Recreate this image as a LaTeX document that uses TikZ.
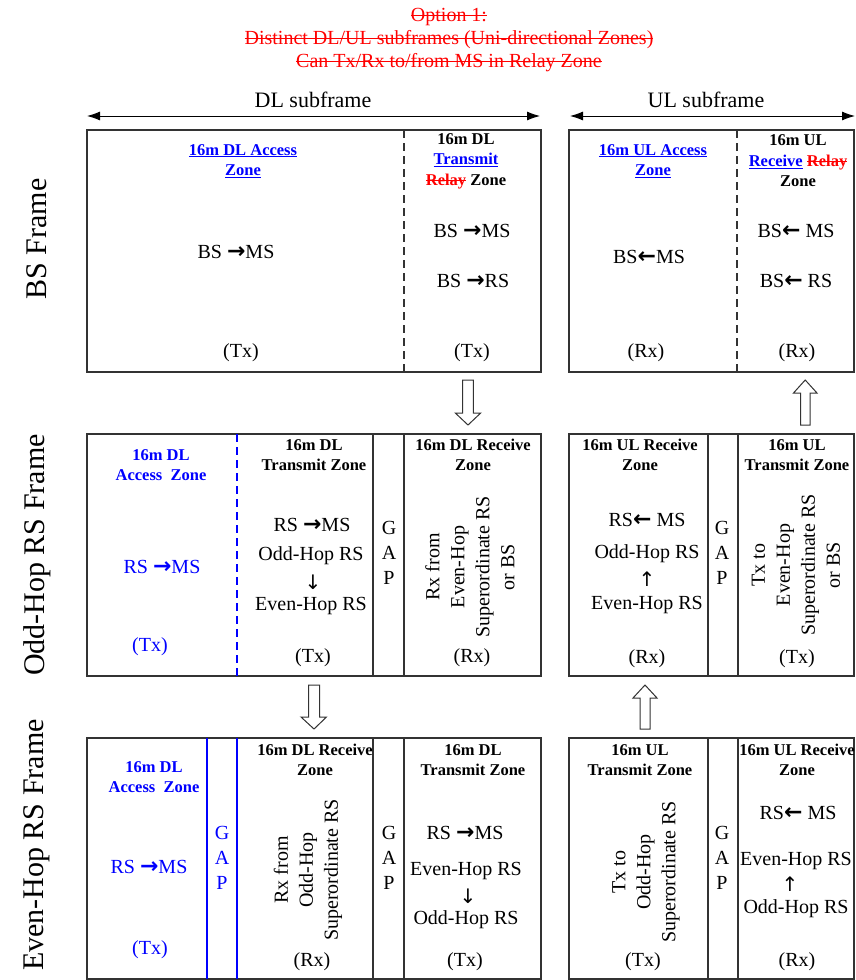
\documentclass[tikz,border=0pt]{standalone}
\usepackage{fontspec}
\setmainfont{Liberation Serif}
\newfontfamily\arrf{DejaVu Sans}
\usetikzlibrary{arrows.meta}
\newcommand\strk[1]{\setbox0\hbox{#1}\rlap{\rule[0.27em]{\wd0}{0.055em}}\box0}
\newcommand\bodyf{\fontsize{20}{25}\selectfont}
\newcommand\headf{\bfseries\fontsize{16.5}{20.5}\selectfont}
\newcommand\rarr{{\arrf\bfseries\fontsize{22}{22}\selectfont →}}
\newcommand\larr{{\arrf\bfseries\fontsize{22}{22}\selectfont ←}}
\newcommand\darr{{\arrf\fontsize{20}{20}\selectfont ↓}}
\newcommand\uarr{{\arrf\fontsize{20}{20}\selectfont ↑}}
\begin{document}
\begin{tikzpicture}[x=1pt,y=-1pt,
  body/.style={font=\bodyf, inner sep=0pt, align=center},
  hdr/.style={font=\headf, inner sep=0pt, align=center},
  rot/.style={font=\bodyf, inner sep=0pt, align=center, rotate=90},
  rowlab/.style={font=\fontsize{30}{34}\selectfont, inner sep=0pt, rotate=90},
  sub/.style={font=\fontsize{22}{26}\selectfont, inner sep=0pt},
  titlest/.style={font=\fontsize{20}{23}\selectfont, text=red, inner sep=0pt, align=center},
  frame/.style={draw=black!80, line width=1.5pt},
  sep/.style={draw=black!80, line width=1.2pt},
  bluesep/.style={draw=blue, line width=1.2pt},
  dashsep/.style={draw=black!80, line width=1.2pt, dash pattern=on 8pt off 5pt},
  bluedash/.style={draw=blue, line width=1.2pt, dash pattern=on 8pt off 5pt},
  hdrarrow/.style={draw=black, line width=0.9pt, {Latex[length=13pt,width=9pt]}-{Latex[length=13pt,width=9pt]}},
  blockarr/.style={draw=black!80, fill=white, line width=1pt, line join=miter}
]
\useasboundingbox (0,0) rectangle (855,980);

% title
\node[titlest] (title) at (449,40) {\strk{Option 1:}\\\strk{Distinct DL/UL subframes (Uni-directional Zones)}\\\strk{Can Tx/Rx to/from MS in Relay Zone}};

% subframe headers
\node[sub] (dlsub) at (313,100) {DL subframe};
\node[sub] (ulsub) at (706,100) {UL subframe};
\coordinate (dlL) at (87,116);
\coordinate (dlR) at (540,116);
\coordinate (ulL) at (570,116);
\coordinate (ulR) at (855,116);
\draw[hdrarrow] (dlL) -- (dlR);
\draw[hdrarrow] (ulL) -- (ulR);

% row labels
\node[rowlab] (lbs) at (37,239) {BS Frame};
\node[rowlab] (lodd) at (37,555) {Odd-Hop RS Frame};
\node[rowlab] (leven) at (37,845) {Even-Hop RS Frame};

% ---------- BS frame row ----------
\draw[frame] (87,130) rectangle (541,372);
\draw[frame] (569,130) rectangle (854,372);
\draw[dashsep] (404,130) -- (404,372);
\draw[dashsep] (737,130) -- (737,372);

\node[hdr, text=blue] (b1h) at (243,161) {\underline{16m DL Access}\\\underline{Zone}};
\node[body] (b1a) at (236,252) {BS \rarr MS};
\node[body] (b1t) at (241,353) {(Tx)};

\node[hdr] (b2h) at (466,161) {16m DL\\\textcolor{blue}{\underline{Transmit}}\\\textcolor{red}{\strk{Relay}} Zone};
\node[body] (b2a) at (472,231) {BS \rarr MS};
\node[body] (b2b) at (473,281) {BS \rarr RS};
\node[body] (b2t) at (472,353) {(Tx)};

\node[hdr, text=blue] (b3h) at (653,161) {\underline{16m UL Access}\\\underline{Zone}};
\node[body] (b3a) at (649,257) {BS\larr MS};
\node[body] (b3t) at (646,353) {(Rx)};

\node[hdr] (b4h) at (798,161) {16m UL\\\textcolor{blue}{\underline{Receive}} \textcolor{red}{\strk{Relay}}\\Zone};
\node[body] (b4a) at (796,231) {BS\larr\ MS};
\node[body] (b4b) at (796,281) {BS\larr\ RS};
\node[body] (b4t) at (797,353) {(Rx)};

% block arrows between BS and odd rows
\draw[blockarr] (462.7,380) -- (473.3,380) -- (473.3,413) -- (480.7,413) -- (468,425) -- (455.3,413) -- (462.7,413) -- cycle;
\draw[blockarr] (800.5,425) -- (810,425) -- (810,393) -- (817,393) -- (805.2,380) -- (793.5,393) -- (800.5,393) -- cycle;

% ---------- Odd-Hop row ----------
\draw[frame] (87,434) rectangle (541,676);
\draw[frame] (569,434) rectangle (854,676);
\draw[bluedash] (237,434) -- (237,676);
\draw[sep] (373,434) -- (373,676);
\draw[sep] (404,434) -- (404,676);
\draw[sep] (708,434) -- (708,676);
\draw[sep] (738,434) -- (738,676);

\node[hdr, text=blue] (o1h) at (161,465) {16m DL\\Access~ Zone};
\node[body, text=blue] (o1a) at (162,567) {RS \rarr MS};
\node[body, text=blue] (o1t) at (150,647) {(Tx)};

\node[hdr] (o2h) at (314,455) {16m DL\\Transmit Zone};
\node[body] (o2a) at (312,525) {RS \rarr MS};
\node[body] (o2b) at (311,556) {Odd-Hop RS};
\node[body] (o2c) at (313,582) {\darr};
\node[body] (o2d) at (311,606) {Even-Hop RS};
\node[body] (o2t) at (313,658) {(Tx)};

\node[body] (o3g) at (389,553) {G\\A\\P};

\node[hdr] (o4h) at (473,455) {16m DL Receive\\Zone};
\node[rot] (o4r) at (470,567) {Rx from\\Even-Hop\\Superordinate RS\\or BS};
\node[body] (o4t) at (472,658) {(Rx)};

\node[hdr] (o5h) at (640,455) {16m UL Receive\\Zone};
\node[body] (o5a) at (647,520) {RS\larr\ MS};
\node[body] (o5b) at (647,554) {Odd-Hop RS};
\node[body] (o5c) at (647,579) {\uarr};
\node[body] (o5d) at (647,605) {Even-Hop RS};
\node[body] (o5t) at (647,659) {(Rx)};

\node[body] (o6g) at (722,553) {G\\A\\P};

\node[hdr] (o7h) at (797,455) {16m UL\\Transmit Zone};
\node[rot] (o7r) at (796,565) {Tx to\\Even-Hop\\Superordinate RS\\or BS};
\node[body] (o7t) at (797,659) {(Tx)};

% block arrows between odd and even rows
\draw[blockarr] (308.5,685) -- (319.5,685) -- (319.5,717) -- (326.5,717) -- (314,729) -- (301,717) -- (308.5,717) -- cycle;
\draw[blockarr] (640,729) -- (650,729) -- (650,698) -- (657,698) -- (645,685) -- (633,698) -- (640,698) -- cycle;

% ---------- Even-Hop row ----------
\draw[frame] (87,738) rectangle (541,979);
\draw[frame] (569,738) rectangle (854,979);
\draw[bluesep] (207,738) -- (207,979);
\draw[bluesep] (237,738) -- (237,979);
\draw[sep] (373,738) -- (373,979);
\draw[sep] (404,738) -- (404,979);
\draw[sep] (708,738) -- (708,979);
\draw[sep] (738,738) -- (738,979);

\node[hdr, text=blue] (e1h) at (154,777) {16m DL\\Access~ Zone};
\node[body, text=blue] (e1a) at (149,867) {RS \rarr MS};
\node[body, text=blue] (e1t) at (150,950) {(Tx)};

\node[body, text=blue] (e2g) at (222,858) {G\\A\\P};

\node[hdr] (e3h) at (315,760) {16m DL Receive\\Zone};
\node[rot] (e3r) at (308,870) {Rx from\\Odd-Hop\\Superordinate RS};
\node[body] (e3t) at (312,962) {(Rx)};

\node[body] (e4g) at (389,858) {G\\A\\P};

\node[hdr] (e5h) at (473,760) {16m DL\\Transmit Zone};
\node[body] (e5a) at (465,833) {RS \rarr MS};
\node[body] (e5b) at (466,871) {Even-Hop RS};
\node[body] (e5c) at (468,896) {\darr};
\node[body] (e5d) at (466,920) {Odd-Hop RS};
\node[body] (e5t) at (465,962) {(Tx)};

\node[hdr] (e6h) at (640,760) {16m UL\\Transmit Zone};
\node[rot] (e6r) at (646,872) {Tx to\\Odd-Hop\\Superordinate RS};
\node[body] (e6t) at (643,962) {(Tx)};

\node[body] (e7g) at (722,858) {G\\A\\P};

\node[hdr] (e8h) at (797,760) {16m UL Receive\\Zone};
\node[body] (e8a) at (798,813) {RS\larr\ MS};
\node[body] (e8b) at (796,861) {Even-Hop RS};
\node[body] (e8c) at (790,884) {\uarr};
\node[body] (e8d) at (796,909) {Odd-Hop RS};
\node[body] (e8t) at (797,962) {(Rx)};
\end{tikzpicture}
\end{document}
